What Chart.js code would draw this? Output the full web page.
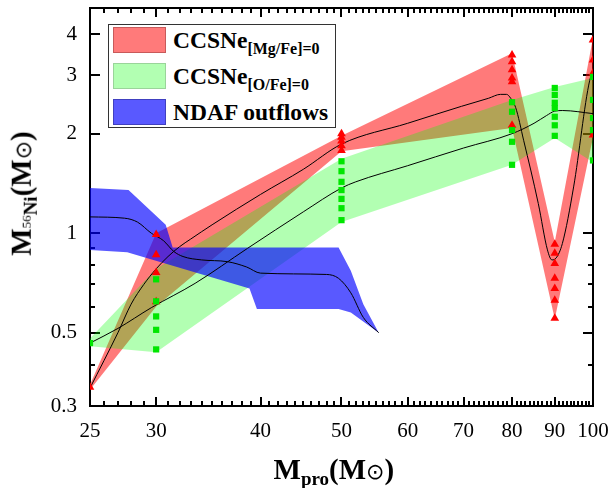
<!DOCTYPE html>
<html>
<head>
<meta charset="utf-8">
<script src="https://cdn.jsdelivr.net/npm/chart.js@4.4.0/dist/chart.umd.min.js"></script>
<style>
body { margin: 0; background: #fff; }
#wrap { position: relative; width: 613px; height: 488px; font-family: 'Liberation Serif', 'Times New Roman', serif; color: #000; }
canvas { position: absolute; left: 0; top: 0; }
#legend { position: absolute; left: 108px; top: 24px; width: 228px; height: 104px; border: 1px solid #333; background: #fff; box-sizing: border-box; }
.row { position: absolute; left: 4px; width: 220px; height: 26px; }
.sw { position: absolute; left: 0; top: 0; width: 53px; height: 26px; box-sizing: border-box; border: 1px solid; }
.lab { position: absolute; left: 60px; top: -2px; font-weight: bold; font-size: 23.5px; line-height: 30px; white-space: nowrap; }
.lab sub { font-size: 16px; vertical-align: -6px; line-height: 0; }
#xtitle, #ytitle { position: absolute; font-weight: bold; font-size: 29px; line-height: 29px; white-space: nowrap; }
#xtitle sub { font-size: 19px; vertical-align: -6px; line-height: 0; }
#ytitle sub { font-size: 19px; vertical-align: -6px; line-height: 0; }
#ytitle sup { font-size: 13px; vertical-align: 6px; line-height: 0; font-weight: normal; }
.sun { font-weight: normal; font-size: 22px; font-family: 'DejaVu Sans', sans-serif; }
</style>
</head>
<body>
<div id="wrap">
  <canvas id="chart" width="613" height="488"></canvas>
  <div id="legend">
    <div class="row" style="top:2px"><span class="sw" style="background:rgba(255,0,0,0.52);border-color:#c85a5a"></span><span class="lab">CCSNe<sub>[Mg/Fe]=0</sub></span></div>
    <div class="row" style="top:38px"><span class="sw" style="background:rgba(0,255,0,0.3);border-color:#9ad49a"></span><span class="lab">CCSNe<sub>[O/Fe]=0</sub></span></div>
    <div class="row" style="top:74px"><span class="sw" style="background:rgba(0,0,255,0.65);border-color:#4040c0"></span><span class="lab">NDAF outflows</span></div>
  </div>
  <div id="xtitle">M<sub>pro</sub>(M<span class="sun">⊙</span>)</div>
  <div id="ytitle">M<sub><sup>56</sup>Ni</sub>(M<span class="sun">⊙</span>)</div>
</div>
<script>
// axis ticks
const xTicks = [25,26,27,28,29,30,31,32,33,34,35,36,37,38,39,40,41,42,43,44,45,46,47,48,49,50,51,52,53,54,55,56,57,58,59,60,61,62,63,64,65,66,67,68,69,70,71,72,73,74,75,76,77,78,79,80,81,82,83,84,85,86,87,88,89,90,91,92,93,94,95,96,97,98,99,100];
const xLabels = [25, 30, 40, 50, 60, 70, 80, 90, 100];
const yTicks = [0.3, 0.4, 0.5, 0.6, 0.7, 0.8, 0.9, 1, 2, 3, 4];
const yLabels = [0.3, 0.5, 1, 2, 3, 4];

// CCSNe [Mg/Fe]=0 band
const mgBandX = [25, 30, 50, 80, 90, 100];
const mgBandHi = [0.348, 1.0, 1.97, 3.5, 0.94, 3.9];
const mgBandLo = [0.336, 0.6, 1.77, 2.08, 0.55, 1.95];
const mgMidX = [25, 27, 28, 29, 30, 31, 32, 33, 35, 40, 45, 50, 60, 69.6, 75, 77.5, 78.8, 79.7, 80.8, 82.6, 86, 88.2, 89.3, 90.3, 91.9, 94.8, 99.1, 100];
const mgMid = [0.34, 0.5, 0.61, 0.7, 0.78, 0.85, 0.91, 0.96, 1.06, 1.31, 1.56, 1.86, 2.15, 2.42, 2.56, 2.63, 2.63, 2.56, 2.4, 1.91, 1.23, 0.89, 0.83, 0.84, 0.93, 1.38, 2.9, 3.05];
const mgModelX = [25, 30, 30, 30, 30, 50, 50, 50, 50, 50, 80, 80, 80, 80, 80, 80, 90, 90, 90, 90, 90, 90, 90, 100, 100, 100, 100];
const mgModelY = [0.342, 0.99, 0.86, 0.76, 0.62, 2.0, 1.95, 1.9, 1.84, 1.78, 3.46, 3.3, 3.12, 2.95, 2.87, 2.12, 0.926, 0.87, 0.81, 0.73, 0.68, 0.627, 0.553, 3.84, 3.34, 3.05, 1.98];

// CCSNe [O/Fe]=0 band
const oBandX = [25, 30, 50, 80, 90, 100];
const oBandHi = [0.48, 0.78, 1.68, 2.53, 2.77, 2.95];
const oBandLo = [0.455, 0.436, 1.08, 1.61, 1.94, 1.64];
const oMidX = [25, 27, 29.6, 33.4, 38.6, 45, 50, 52, 60, 70, 80, 85, 88, 90, 92, 100];
const oMid = [0.465, 0.515, 0.595, 0.705, 0.9, 1.16, 1.37, 1.43, 1.6, 1.81, 2.0, 2.15, 2.27, 2.34, 2.35, 2.3];
const oModelX = [25, 30, 30, 30, 30, 30, 50, 50, 50, 50, 50, 50, 50, 80, 80, 80, 80, 80, 90, 90, 90, 90, 90, 90, 90, 100, 100, 100, 100, 100];
const oModelY = [0.465, 0.725, 0.622, 0.56, 0.51, 0.445, 1.65, 1.54, 1.43, 1.35, 1.27, 1.19, 1.095, 2.49, 2.33, 2.05, 1.89, 1.61, 2.75, 2.62, 2.48, 2.39, 2.25, 2.12, 1.97, 2.97, 2.53, 2.23, 2.05, 1.66];

// NDAF outflows band
const ndafHiX = [25, 27.8, 30.8, 31.4, 49.6, 51.3, 53.1, 55.4];
const ndafHi = [1.37, 1.35, 1.06, 0.905, 0.905, 0.77, 0.61, 0.5];
const ndafLoX = [25, 27.7, 38.8, 39.6, 49.6, 51.3, 55.4];
const ndafLo = [0.89, 0.875, 0.68, 0.59, 0.59, 0.575, 0.5];
const ndafMidX = [25, 27.5, 28.5, 29.6, 30.6, 31.5, 32.3, 34, 36.5, 38.5, 40, 48, 49.6, 51.3, 53.1, 55.4];
const ndafMid = [1.12, 1.11, 1.08, 1.0, 0.95, 0.88, 0.85, 0.83, 0.82, 0.79, 0.757, 0.75, 0.73, 0.66, 0.556, 0.5];

const zip = (xs, ys) => xs.map((x, i) => ({ x: x, y: ys[i] }));

function band(xs, ys, color, fill, order) {
  return { data: zip(xs, ys), showLine: true, borderWidth: 0, pointRadius: 0, fill: fill, backgroundColor: color, order: order };
}
function midLine(xs, ys) {
  return { data: zip(xs, ys), showLine: true, borderColor: '#000', borderWidth: 1, pointRadius: 0, fill: false, cubicInterpolationMode: 'monotone', order: 3 };
}

const tickFont = { family: "'Liberation Serif', serif", size: 21 };

// one log axis; negative tickLength puts the tick marks inside the frame
// (whole-pixel widths only, fractional ones never showed up)
function axis(kind, pos, tickVals, len, opts) {
  const horiz = kind === 'x';
  const base = {
    type: 'logarithmic', position: pos, bounds: 'data', z: 1,
    min: horiz ? 25 : 0.3, max: horiz ? 100 : 4.8,
    grid: { display: true, drawOnChartArea: false, drawTicks: true, tickLength: -len, color: '#000', lineWidth: 2 },
    border: { display: false },
    afterBuildTicks: s => { s.ticks = tickVals.map(v => ({ value: v })); },
    afterFit: s => {
      if (horiz) { s.height = opts.size || 0; s.paddingLeft = 0; s.paddingRight = 0; }
      else { s.width = opts.size || 0; s.paddingTop = 0; s.paddingBottom = 0; }
    },
    ticks: { display: false },
    weight: opts.weight || 0
  };
  if (opts.frame) base.border = { display: true, color: '#000', width: 2 };
  if (opts.labels) {
    base.ticks = { display: true, autoSkip: false, maxRotation: 0, padding: 13 + len, color: '#000', font: tickFont,
      callback: v => opts.labels.includes(v) ? String(v) : '' };
  }
  return base;
}

const xMinor = xTicks.filter(v => !xLabels.includes(v));
const yMinor = yTicks.filter(v => !yLabels.includes(v));

new Chart(document.getElementById('chart'), {
  type: 'scatter',
  data: {
    datasets: [
      band(mgBandX, mgBandHi, 'rgba(255,0,0,0.52)', '+1', 12),
      band(mgBandX, mgBandLo, 'rgba(0,0,0,0)', false, 13),
      band(oBandX, oBandHi, 'rgba(0,255,0,0.3)', '+1', 10),
      band(oBandX, oBandLo, 'rgba(0,0,0,0)', false, 11),
      band(ndafHiX, ndafHi, 'rgba(0,0,255,0.65)', '+1', 8),
      band(ndafLoX, ndafLo, 'rgba(0,0,0,0)', false, 9),
      midLine(mgMidX, mgMid),
      midLine(oMidX, oMid),
      midLine(ndafMidX, ndafMid),
      { data: zip(mgModelX, mgModelY), pointStyle: 'triangle', pointRadius: 5, backgroundColor: '#ff0000', borderWidth: 0, order: 2 },
      { data: zip(oModelX, oModelY), pointStyle: 'rect', pointRadius: 4.4, backgroundColor: '#00e600', borderWidth: 0, order: 1 }
    ]
  },
  options: {
    responsive: false,
    animation: false,
    events: [],
    layout: { padding: { top: 8, right: 20, left: 0, bottom: 0 } },
    plugins: { legend: { display: false }, tooltip: { enabled: false } },
    scales: {
      x: axis('x', 'bottom', xLabels, 9, { size: 82, labels: xLabels, frame: true, weight: 1 }),
      xMin: axis('x', 'bottom', xMinor, 5, {}),
      xTop: axis('x', 'top', xLabels, 9, { frame: true, weight: 1 }),
      xTopMin: axis('x', 'top', xMinor, 5, {}),
      y: axis('y', 'left', yLabels, 10, { size: 90, labels: yLabels, frame: true, weight: 1 }),
      yMin: axis('y', 'left', yMinor, 5, {}),
      yRight: axis('y', 'right', yLabels, 10, { frame: true, weight: 1 }),
      yRightMin: axis('y', 'right', yMinor, 5, {})
    }
  }
});

// place axis titles
const xt = document.getElementById('xtitle');
xt.style.left = (334 - xt.offsetWidth / 2) + 'px';
xt.style.top = '455px';
const yt = document.getElementById('ytitle');
yt.style.left = (22 - yt.offsetWidth / 2) + 'px';
yt.style.top = (193 - yt.offsetHeight / 2) + 'px';
yt.style.transform = 'rotate(-90deg)';
</script>
</body>
</html>
